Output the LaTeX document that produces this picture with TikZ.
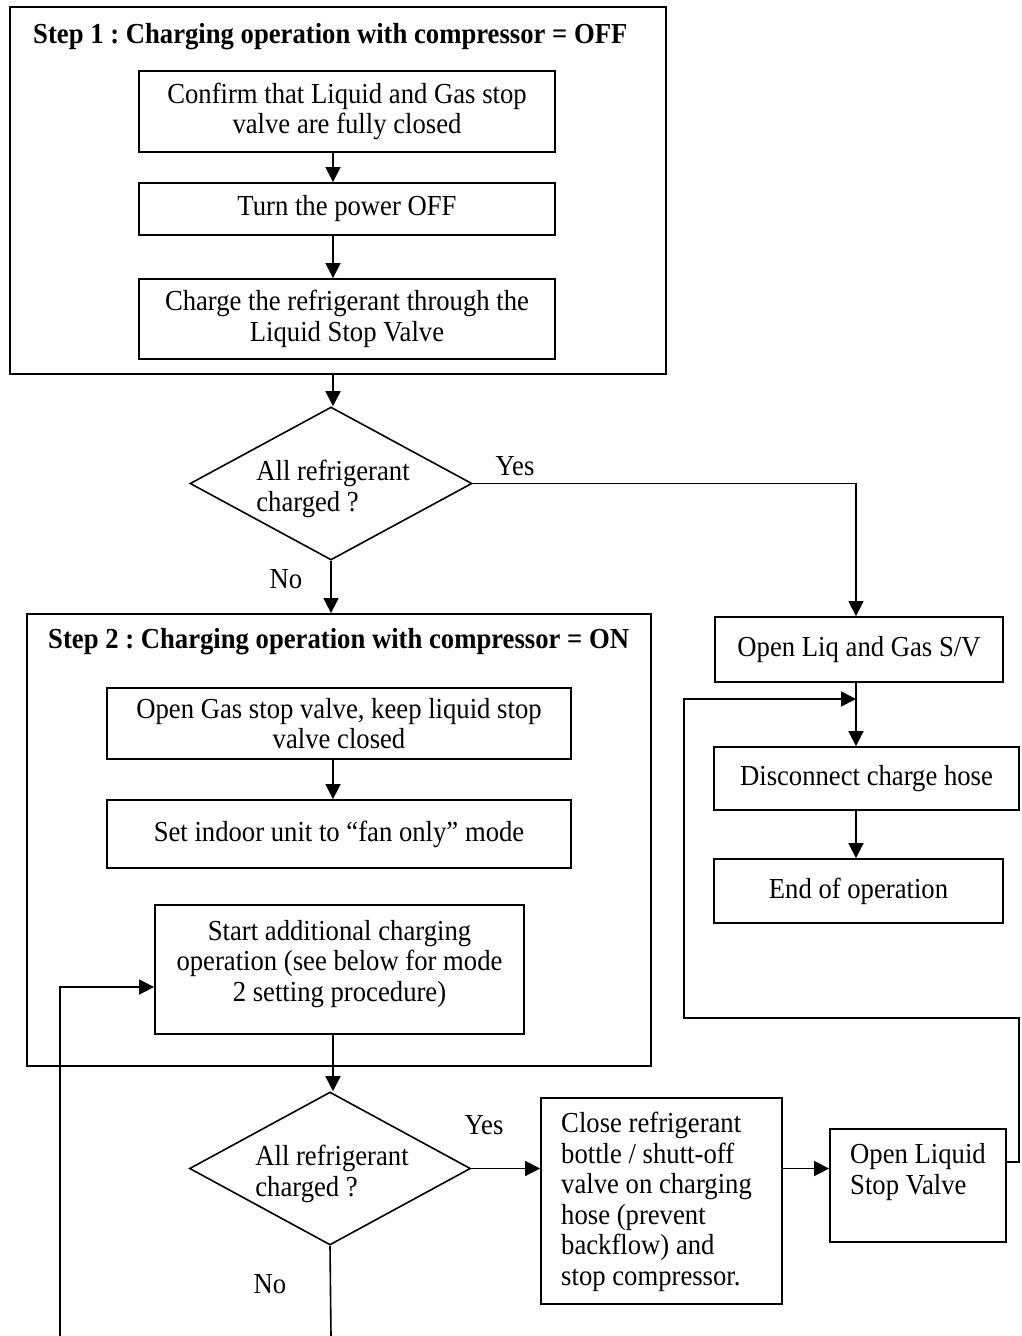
\documentclass[tikz,border=0pt]{standalone}
\usepackage{fontspec}
\setmainfont{Liberation Serif}[FakeStretch=0.92]
\frenchspacing
\usetikzlibrary{arrows.meta,shapes.geometric}
\tikzset{
  txt/.style={font=\fontsize{29}{30.5}\selectfont, inner sep=0pt},
  box/.style={txt, draw, line width=1.8pt, align=center},
  frame/.style={draw, line width=1.8pt, inner sep=0pt},
  dia/.style={draw, diamond, line width=1.6pt, inner sep=0pt},
  conn/.style={line width=1.6pt},
  arr/.style={conn, -{Triangle[length=15pt,width=15pt]}},
  ttl/.style={txt, font=\fontsize{29}{30.5}\selectfont\bfseries, anchor=west},
}
\begin{document}
\begin{tikzpicture}[x=1pt,y=-1pt]
\useasboundingbox (0,0) rectangle (1021,1336);
% Step 1 frame
\node[frame, minimum width=656pt, minimum height=367pt] (s1) at (338,190.5) {};
\node[ttl] (t1) at (33,37) {Step 1 : Charging operation with compressor = OFF};
\node[box, minimum width=416pt, minimum height=81pt] (a) at (347,111.5) {Confirm that Liquid and Gas stop\\valve are fully closed};
\node[box, minimum width=416pt, minimum height=52pt] (b) at (347,209) {Turn the power OFF};
\node[box, minimum width=416pt, minimum height=80pt] (c) at (347,319) {Charge the refrigerant through the\\Liquid Stop Valve};
\coordinate (xa) at (333,0);
% decision 1
\node[dia, minimum width=282pt, minimum height=153pt] (d1) at (331,483.5) {};
\node[txt, align=left] (d1t) at (333,489) {All refrigerant\\charged ?};
\node[txt] (y1) at (515,466) {Yes};
\node[txt] (n1) at (286,579) {No};
% Step 2 frame
\node[frame, minimum width=624pt, minimum height=452pt] (s2) at (339,840) {};
\node[ttl] (t2) at (48,642) {Step 2 : Charging operation with compressor = ON};
\node[box, minimum width=464pt, minimum height=71pt] (d) at (339,723.5) {Open Gas stop valve, keep liquid stop\\valve closed};
\node[box, minimum width=464pt, minimum height=68pt] (e) at (339,834) {Set indoor unit to “fan only” mode};
\node[box, minimum width=369pt, minimum height=129pt] (f) at (339.5,969.5) {};
\node[txt, align=center] (ft) at (339.5,964) {Start additional charging\\operation (see below for mode\\2 setting procedure)};
% decision 2
\node[dia, minimum width=281pt, minimum height=153pt] (d2) at (330,1168.5) {};
\node[txt, align=left] (d2t) at (332,1174) {All refrigerant\\charged ?};
\node[txt] (y2) at (484,1125) {Yes};
\node[txt] (n2) at (270,1284) {No};
\node[box, minimum width=241pt, minimum height=206pt] (g) at (661.5,1201) {};
\node[txt, align=left, anchor=west] (gt) at (561,1202) {Close refrigerant\\bottle / shutt-off\\valve on charging\\hose (prevent\\backflow) and\\stop compressor.};
\node[box, minimum width=176pt, minimum height=113pt] (h) at (918,1185.5) {};
\node[txt, align=left, anchor=west] (ht) at (850,1172) {Open Liquid\\Stop Valve};
% right column
\node[box, minimum width=288pt, minimum height=65pt] (op) at (859,649.5) {Open Liq and Gas S/V};
\node[box, minimum width=305pt, minimum height=63pt] (dc) at (866.5,778.5) {Disconnect charge hose};
\node[box, minimum width=289pt, minimum height=64pt] (en) at (858.5,891) {End of operation};
\coordinate (vx) at (856,0);
\coordinate (lr) at (1019,1018);
\coordinate (ll) at (684,1018);
\coordinate (lj) at (856,699);
\coordinate (bot1) at (331,1336);
\coordinate (bl) at (60,1336);
% connectors
\draw[arr] (a.south -| xa) -- (b.north -| xa);
\draw[arr] (b.south -| xa) -- (c.north -| xa);
\draw[arr] (s1.south -| xa) -- (d1.north -| xa);
\draw[arr] (d1.east) -| (op.north -| vx);
\draw[arr] (d1.south) -- (d1.south |- s2.north);
\draw[arr] (d.south -| xa) -- (e.north -| xa);
\draw[arr] (f.south -| xa) -- (d2.north -| xa);
\draw[arr] (d2.east) -- (d2.east -| g.west);
\draw[arr] (d2.east -| g.east) -- (d2.east -| h.west);
\draw[conn] (d2.south) -- (bot1);
\draw[arr] (bl) |- ([yshift=-17.5pt]f.west);
\draw[arr] (op.south -| vx) -- (dc.north -| vx);
\draw[arr] (dc.south -| vx) -- (en.north -| vx);
\draw[arr] ([yshift=23.5pt]h.east) -| (lr) -- (ll) |- (lj);
\end{tikzpicture}
\end{document}
